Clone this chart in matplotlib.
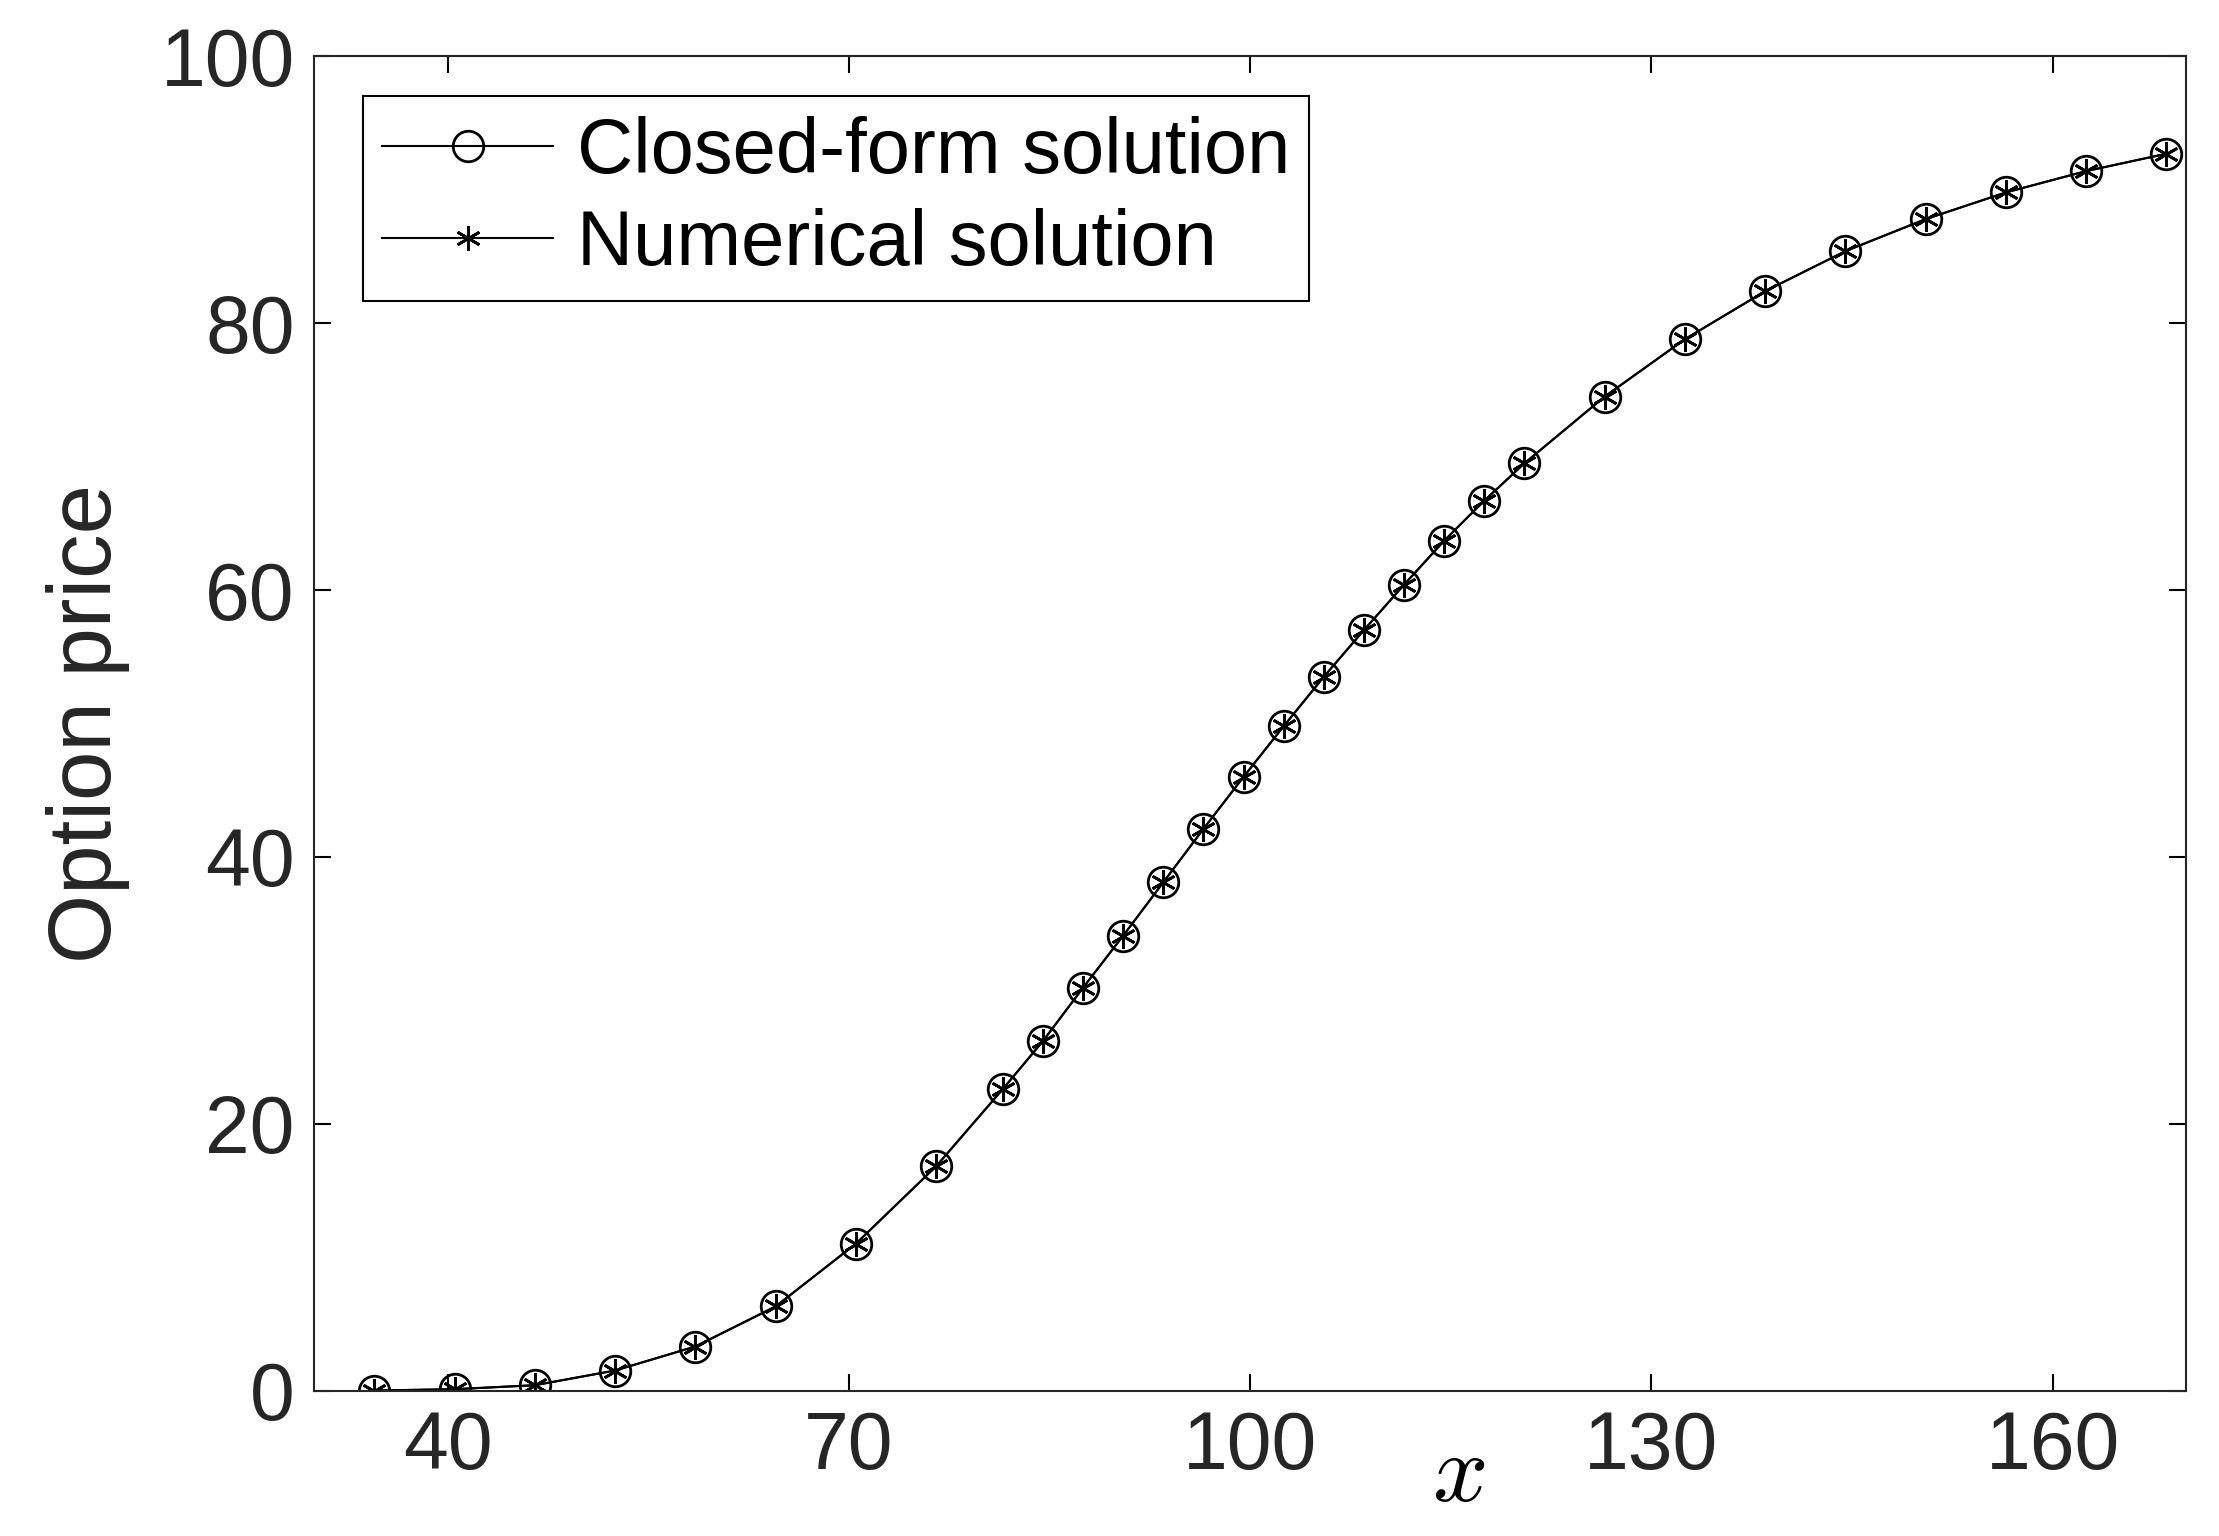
import matplotlib.pyplot as plt

# stock price grid and option prices
x_vals = [34.5, 40.5, 46.5, 52.5, 58.5, 64.5, 70.5, 76.5, 81.5, 84.5, 87.5, 90.5,
          93.5, 96.5, 99.5, 102.5, 105.5, 108.5, 111.5, 114.5, 117.5, 120.5,
          126.5, 132.5, 138.5, 144.5, 150.5, 156.5, 162.5, 168.5]
closed_form = [0.0, 0.1, 0.4, 1.5, 3.3, 6.3, 11.0, 16.8, 22.6, 26.2, 30.2, 34.1,
               38.1, 42.1, 46.0, 49.8, 53.5, 57.0, 60.4, 63.7, 66.7, 69.5,
               74.5, 78.8, 82.4, 85.4, 87.8, 89.8, 91.4, 92.7]
numerical = list(closed_form)
x_ticks = [40, 70, 100, 130, 160]
y_ticks = [0, 20, 40, 60, 80, 100]

plt.rcParams['font.family'] = ['Liberation Sans', 'DejaVu Sans']
plt.rcParams['mathtext.fontset'] = 'cm'
txt = '#262626'

fig = plt.figure(figsize=(22.19, 15.36), dpi=100)
ax = fig.add_axes([0.1416, 0.0947, 0.8437, 0.8686])

ax.plot(x_vals, closed_form, '-o', color='black', lw=1.5, ms=22, mfc='none',
        mew=2, label='Closed-form solution')
ax.plot(x_vals, numerical, '-', marker=(6, 2, 0), color='black', lw=1.5,
        ms=18, mew=2, label='Numerical solution')

ax.set_xlim(30, 170)
ax.set_ylim(0, 100)
ax.set_xticks(x_ticks)
ax.set_yticks(y_ticks)
ax.tick_params(direction='in', top=True, right=True, length=12, width=1.5,
               labelsize=58, labelcolor=txt, pad=14)
for s in ax.spines.values():
    s.set_linewidth(1.5)
    s.set_color(txt)

ax.set_ylabel('Option price', fontsize=64, color=txt, labelpad=22)
ax.text(0.611, -0.03, r'$x$', transform=ax.transAxes, fontsize=70,
        ha='center', va='top', color='black')

leg = ax.legend(loc='upper left', bbox_to_anchor=(0.026, 0.97), fontsize=56,
                fancybox=False, framealpha=1, edgecolor='black',
                handlelength=2.2, borderpad=0.25, labelspacing=0.25,
                handletextpad=0.3, borderaxespad=0)
leg.get_frame().set_linewidth(1.5)
for t in leg.get_texts():
    t.set_color('black')

fig.savefig('out.png', dpi=100)
